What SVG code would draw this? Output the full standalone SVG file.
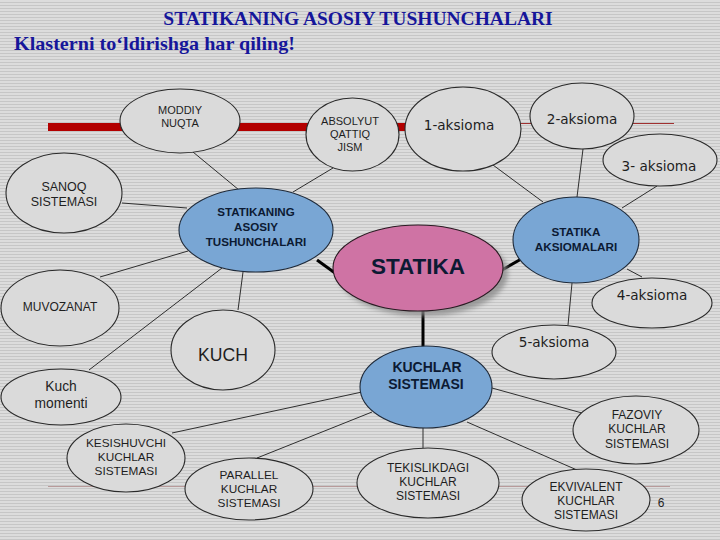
<svg xmlns="http://www.w3.org/2000/svg" width="720" height="540" viewBox="0 0 720 540">
<defs>
<pattern id="stripes" width="8" height="3" patternUnits="userSpaceOnUse">
<rect width="8" height="3" fill="#dcdcdc"/>
<rect y="2" width="8" height="1" fill="#c6c6c6"/>
</pattern>
<filter id="shadow" x="-20%" y="-20%" width="150%" height="150%">
<feGaussianBlur stdDeviation="2.5"/>
</filter>
<style>
.n{fill:#dadada;stroke:#2a2a2a;stroke-width:1.1}
.b{fill:#79a6d4;stroke:#1e2a3a;stroke-width:1.1}
.p{fill:#cf73a4;stroke:#2a1a22;stroke-width:1.1}
.c{stroke:#2e2e2e;stroke-width:1;fill:none}
.k{stroke:#000;stroke-width:3;fill:none}
.t{font-family:"Liberation Sans",Arial,sans-serif;fill:#1e1e1e;text-anchor:middle}
.a{font-family:"DejaVu Sans",Verdana,sans-serif;font-size:13.6px;fill:#1e1e1e;text-anchor:middle}
.bt{font-family:"Liberation Sans",Arial,sans-serif;font-weight:bold;fill:#0c1a33;text-anchor:middle}
.h{font-family:"Liberation Serif","Times New Roman",serif;font-weight:bold;fill:#16169a}
</style>
</defs>
<rect width="720" height="540" fill="url(#stripes)"/>
<g id="decor">
<rect x="48" y="123" width="357" height="8" fill="#b30000"/>
<line x1="405" y1="123.5" x2="674" y2="123.5" stroke="#a03030" stroke-width="1"/>
<line x1="48" y1="486.5" x2="670" y2="486.5" stroke="#b89a9a" stroke-width="1"/>
</g>
<g id="title">
<text class="h" x="358" y="25" font-size="19.5" text-anchor="middle">STATIKANING ASOSIY TUSHUNCHALARI</text>
<text class="h" x="14" y="50" font-size="19" textLength="281" lengthAdjust="spacingAndGlyphs">Klasterni toʻldirishga har qiling!</text>
</g>
<g id="connectors">
<line class="c" x1="193" y1="152" x2="239" y2="190"/>
<line class="c" x1="333" y1="168" x2="293" y2="192"/>
<line class="c" x1="122" y1="203" x2="187" y2="208"/>
<line class="c" x1="100" y1="277" x2="188" y2="251"/>
<line class="c" x1="89" y1="370" x2="222" y2="268"/>
<line class="c" x1="238" y1="310" x2="243" y2="272"/>
<line class="c" x1="493" y1="165" x2="543" y2="202"/>
<line class="c" x1="583" y1="149" x2="577" y2="197"/>
<line class="c" x1="657" y1="186" x2="622" y2="208"/>
<line class="c" x1="627" y1="269" x2="642" y2="277"/>
<line class="c" x1="568" y1="325" x2="572" y2="283"/>
<line class="c" x1="172" y1="433" x2="362" y2="392"/>
<line class="c" x1="257" y1="458" x2="372" y2="412"/>
<line class="c" x1="423" y1="428" x2="423" y2="448"/>
<line class="c" x1="492" y1="388" x2="582" y2="413"/>
<line class="c" x1="467" y1="422" x2="577" y2="470"/>
<line class="k" x1="317" y1="260" x2="335" y2="273"/>
<line class="k" x1="502" y1="270" x2="523" y2="258"/>
<line class="k" x1="423" y1="310" x2="423" y2="347"/>
</g>
<g id="moddiy">
<ellipse class="n" cx="180" cy="121" rx="60" ry="32"/>
<text class="t" font-size="11" x="180" y="114">MODDIY</text>
<text class="t" font-size="11" x="180" y="127">NUQTA</text>
</g>
<g id="absolyut">
<ellipse class="n" cx="352.5" cy="134.5" rx="46.5" ry="36.5"/>
<text class="t" font-size="11" x="350" y="125">ABSOLYUT</text>
<text class="t" font-size="11" x="350" y="138">QATTIQ</text>
<text class="t" font-size="11" x="350" y="151">JISM</text>
</g>
<g id="aksioma1">
<ellipse class="n" cx="463" cy="129" rx="58" ry="42"/>
<text class="a" x="459" y="130">1-aksioma</text>
</g>
<g id="aksioma2">
<ellipse class="n" cx="582" cy="116" rx="52" ry="33"/>
<text class="a" x="582" y="124">2-aksioma</text>
</g>
<g id="aksioma3">
<ellipse class="n" cx="660" cy="160" rx="57" ry="26"/>
<text class="a" x="659" y="171">3- aksioma</text>
</g>
<g id="sanoq">
<ellipse class="n" cx="64" cy="193" rx="58" ry="40"/>
<text class="t" font-size="12.5" x="64" y="191">SANOQ</text>
<text class="t" font-size="12.5" x="64" y="206">SISTEMASI</text>
</g>
<g id="asosiy">
<ellipse class="b" cx="256" cy="230" rx="77" ry="42"/>
<text class="bt" font-size="11.6" x="256" y="216">STATIKANING</text>
<text class="bt" font-size="11.6" x="256" y="231">ASOSIY</text>
<text class="bt" font-size="11.6" x="256" y="246">TUSHUNCHALARI</text>
</g>
<g id="statika">
<ellipse cx="423" cy="273" rx="85" ry="43" fill="#8a8a8a" opacity="0.8" filter="url(#shadow)"/>
<ellipse class="p" cx="418" cy="268" rx="85" ry="43"/>
<text class="bt" font-size="22.5" x="418" y="274" fill="#1a0a12">STATIKA</text>
</g>
<g id="aksiomalari">
<ellipse class="b" cx="576" cy="240" rx="63" ry="43"/>
<text class="bt" font-size="11.7" x="576" y="236">STATIKA</text>
<text class="bt" font-size="11.7" x="576" y="251">AKSIOMALARI</text>
</g>
<g id="aksioma4">
<ellipse class="n" cx="652" cy="303" rx="60" ry="25"/>
<text class="a" x="652" y="300">4-aksioma</text>
</g>
<g id="aksioma5">
<ellipse class="n" cx="554" cy="352" rx="62" ry="27"/>
<text class="a" x="554" y="347">5-aksioma</text>
</g>
<g id="muvozanat">
<ellipse class="n" cx="60" cy="308" rx="59" ry="38"/>
<text class="t" font-size="12" x="60" y="311">MUVOZANAT</text>
</g>
<g id="kuch">
<ellipse class="n" cx="223" cy="350" rx="52" ry="40"/>
<text class="t" font-size="17.6" x="223" y="361">KUCH</text>
</g>
<g id="kuchmomenti">
<ellipse class="n" cx="61" cy="397" rx="60" ry="28"/>
<text class="t" font-size="13.8" x="61" y="391">Kuch</text>
<text class="t" font-size="13.8" x="61" y="408">momenti</text>
</g>
<g id="kuchlar">
<ellipse class="b" cx="426" cy="387" rx="66" ry="41"/>
<text class="bt" font-size="14" x="427" y="372">KUCHLAR</text>
<text class="bt" font-size="14" x="426" y="389">SISTEMASI</text>
</g>
<g id="kesishuvchi">
<ellipse class="n" cx="126" cy="458" rx="59" ry="34"/>
<text class="t" font-size="11.8" x="126" y="447">KESISHUVCHI</text>
<text class="t" font-size="11.8" x="126" y="461">KUCHLAR</text>
<text class="t" font-size="11.8" x="126" y="475">SISTEMASI</text>
</g>
<g id="parallel">
<ellipse class="n" cx="249" cy="489" rx="64" ry="31"/>
<text class="t" font-size="11.8" x="249" y="479">PARALLEL</text>
<text class="t" font-size="11.8" x="249" y="493">KUCHLAR</text>
<text class="t" font-size="11.8" x="249" y="507">SISTEMASI</text>
</g>
<g id="tekislikdagi">
<ellipse class="n" cx="428" cy="483" rx="71" ry="35"/>
<text class="t" font-size="12" x="428" y="472">TEKISLIKDAGI</text>
<text class="t" font-size="12" x="428" y="486">KUCHLAR</text>
<text class="t" font-size="12" x="428" y="500">SISTEMASI</text>
</g>
<g id="fazoviy">
<ellipse class="n" cx="636" cy="430" rx="63" ry="34"/>
<text class="t" font-size="12" x="637" y="419">FAZOVIY</text>
<text class="t" font-size="12" x="637" y="433">KUCHLAR</text>
<text class="t" font-size="12" x="637" y="448">SISTEMASI</text>
</g>
<g id="ekvivalent">
<ellipse class="n" cx="586" cy="500" rx="64" ry="31"/>
<text class="t" font-size="12" x="586" y="491">EKVIVALENT</text>
<text class="t" font-size="12" x="586" y="505">KUCHLAR</text>
<text class="t" font-size="12" x="586" y="519">SISTEMASI</text>
</g>
<text class="t" font-size="12" x="661" y="507">6</text>
</svg>
